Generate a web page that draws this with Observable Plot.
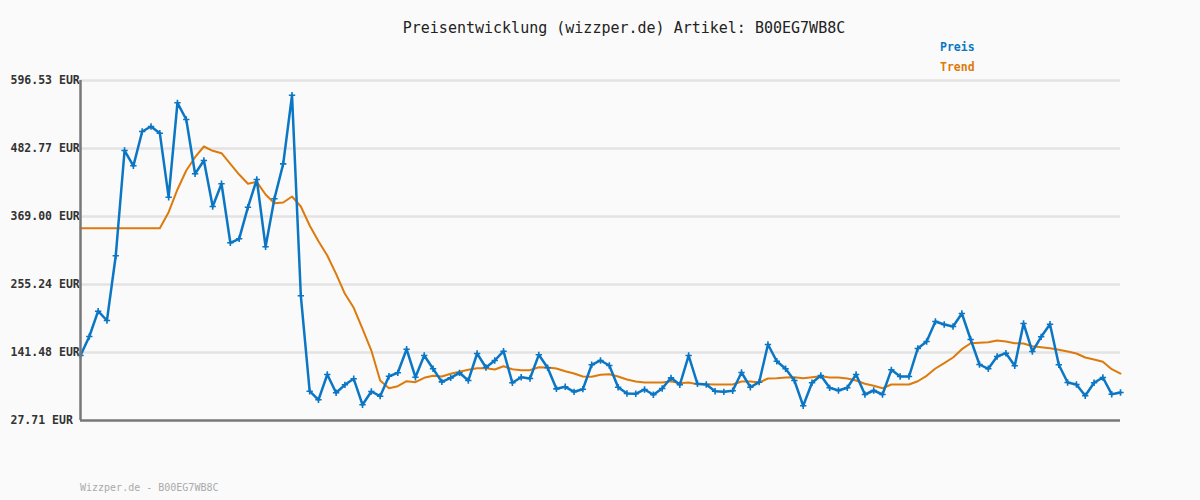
<!DOCTYPE html>
<html>
<head>
<meta charset="utf-8">
<script src="https://cdn.jsdelivr.net/npm/d3@7"></script>
<script src="https://cdn.jsdelivr.net/npm/@observablehq/plot@0.6"></script>
<style>
  html, body { margin: 0; padding: 0; background: #fafafa; }
  #chart { width: 1200px; height: 500px; }
  svg { display: block; }
</style>
</head>
<body>
<div id="chart"></div>
<script>
const titleText = "Preisentwicklung (wizzper.de) Artikel: B00EG7WB8C";
const footerText = "Wizzper.de - B00EG7WB8C";
const seriesNames = ["Preis", "Trend"];
const yTicks = [27.71, 141.48, 255.24, 369.00, 482.77, 596.53];

const preis = [136.5,168.2,210.6,195.0,303.3,479.4,453.8,511.2,519.6,508.4,
401.3,559.2,531.3,440.4,462.7,385.7,423.7,325.0,331.7,384.6,
430.9,318.3,398.6,457.1,571.9,236.3,76.7,62.3,104.7,74.1,
87.4,97.5,54.0,76.2,68.4,101.8,107.5,147.0,100.1,136.4,
114.2,92.4,99.1,107.5,94.6,139.8,116.4,128.1,143.6,90.8,
100.1,98.0,137.6,115.9,80.7,84.1,75.7,80.1,120.9,128.1,
119.7,83.4,72.9,72.4,79.6,70.7,81.2,99.1,87.4,136.4,
89.1,87.9,76.7,75.7,77.4,108.0,83.4,91.8,154.8,126.9,
114.2,94.6,52.3,90.8,103.0,82.4,77.9,82.4,104.7,71.2,
77.9,71.2,112.5,101.3,101.3,148.2,159.9,193.3,188.3,185.0,
206.7,163.2,121.4,114.2,134.8,140.3,119.2,190.0,143.1,167.7,
188.8,120.9,91.3,87.9,69.0,90.8,99.6,71.7,74.5];

const trend = [349.4,349.4,349.4,349.4,349.4,349.4,349.4,349.4,349.4,349.4,
376.2,414.2,446.0,468.2,486.1,478.9,474.9,457.1,439.2,423.7,
427.0,405.8,391.3,392.4,402.5,385.7,353.9,327.7,303.8,273.1,
239.7,216.2,181.1,144.8,94.6,81.7,85.1,93.4,91.8,99.1,
102.5,101.3,105.8,109.2,112.5,115.2,115.2,113.0,118.5,113.5,
111.9,111.9,116.9,116.4,114.7,110.2,106.3,101.3,100.8,104.2,
105.2,101.3,96.3,92.9,91.3,91.3,91.3,93.4,90.1,91.3,
88.4,88.4,87.9,87.9,87.9,92.9,92.9,91.3,98.0,98.5,
99.6,100.1,98.5,100.1,101.8,99.6,99.6,98.0,94.6,89.1,
85.8,81.7,87.9,87.9,87.9,93.4,102.5,114.7,123.6,133.1,
147.0,157.0,157.7,158.7,161.5,159.9,157.0,156.5,152.0,150.3,
148.7,146.0,143.1,139.8,133.1,129.8,125.9,113.5,106.3];

const blue = "#0b76c4";
const orange = "#dd7a0c";
const font = "'DejaVu Sans Mono', 'Liberation Mono', monospace";

const preisData = preis.map((v, i) => ({i, v}));
const trendData = trend.map((v, i) => ({i, v}));

const plot = Plot.plot({
  width: 1200,
  height: 500,
  marginLeft: 80,
  marginRight: 80,
  marginTop: 80,
  marginBottom: 80,
  style: {background: "#fafafa", fontFamily: font, overflow: "visible"},
  x: {domain: [0, preis.length - 1], axis: null},
  y: {domain: [yTicks[0], yTicks[yTicks.length - 1]]},
  marks: [
    Plot.ruleY(yTicks.slice(1), {stroke: "#e3e3e3", strokeWidth: 2.5}),
    Plot.axisY({
      ticks: yTicks,
      tickSize: 0,
      tickPadding: 0,
      textAnchor: "start",
      dx: -70,
      tickFormat: d => d.toFixed(2) + " EUR",
      fontSize: 11.5,
      fontWeight: "bold",
      fill: "#333",
      label: null
    }),
    Plot.line(trendData, {x: "i", y: "v", stroke: orange, strokeWidth: 2}),
    Plot.line(preisData, {x: "i", y: "v", stroke: blue, strokeWidth: 2.5}),
    Plot.dot(preisData, {x: "i", y: "v", symbol: "plus", r: 2.2, stroke: blue, strokeWidth: 1.6}),
    Plot.ruleY([yTicks[0]], {stroke: "#777", strokeWidth: 2.5}),
    Plot.ruleX([0], {y1: yTicks[0], y2: yTicks[yTicks.length - 1], stroke: "#777", strokeWidth: 2.5})
  ]
});

const svg = d3.select(plot);
svg.append("text")
  .attr("x", 624).attr("y", 33)
  .attr("text-anchor", "middle")
  .attr("font-family", font).attr("font-size", 15)
  .attr("fill", "#222")
  .text(titleText);
svg.append("text")
  .attr("x", 940).attr("y", 51)
  .attr("text-anchor", "start")
  .attr("font-family", font).attr("font-size", 11.5).attr("font-weight", "bold")
  .attr("fill", blue).text(seriesNames[0]);
svg.append("text")
  .attr("x", 940).attr("y", 71)
  .attr("text-anchor", "start")
  .attr("font-family", font).attr("font-size", 11.5).attr("font-weight", "bold")
  .attr("fill", orange).text(seriesNames[1]);
svg.append("text")
  .attr("x", 80).attr("y", 491)
  .attr("text-anchor", "start")
  .attr("font-family", font).attr("font-size", 10)
  .attr("fill", "#aaa").text(footerText);

document.getElementById("chart").appendChild(plot);
</script>
</body>
</html>
